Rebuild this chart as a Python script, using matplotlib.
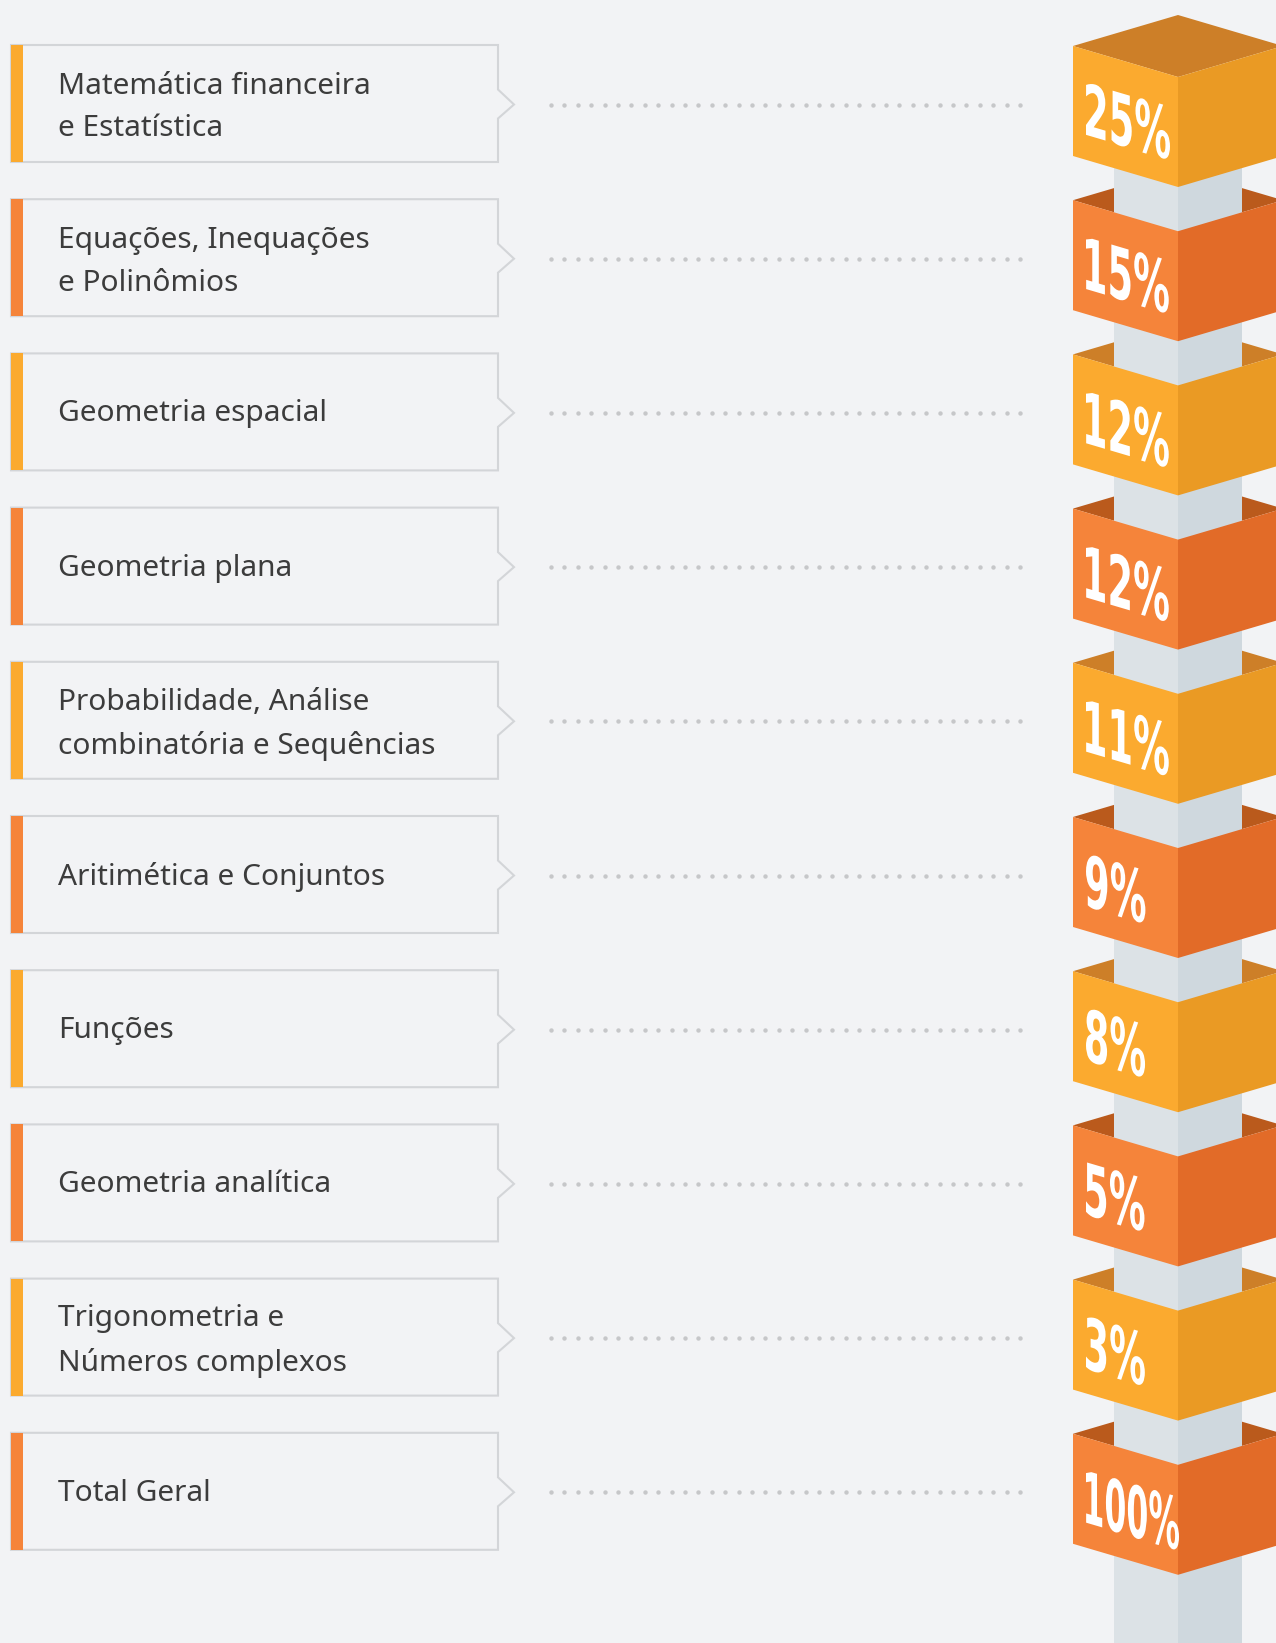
import numpy as np
import matplotlib
matplotlib.use("Agg")
import matplotlib.pyplot as plt
from matplotlib.patches import Polygon, PathPatch, Rectangle
from matplotlib.textpath import TextPath
from matplotlib.transforms import Affine2D
from matplotlib import font_manager

# data
topics = ["Matemática financeira\ne Estatística",
          "Equações, Inequações\ne Polinômios",
          "Geometria espacial",
          "Geometria plana",
          "Probabilidade, Análise\ncombinatória e Sequências",
          "Aritimética e Conjuntos",
          "Funções",
          "Geometria analítica",
          "Trigonometria e\nNúmeros complexos",
          "Total Geral"]
shares = [25, 15, 12, 12, 11, 9, 8, 5, 3, 100]
share_labels = [f"{v}%" for v in shares]

W, H = 1276, 1643
BG = "#F2F3F5"
yellow = {"front": "#FBAA2F", "side": "#EA9A24", "back": "#CD7F28"}
orange = {"front": "#F5843A", "side": "#E26B28", "back": "#BA5A1C"}

fig = plt.figure(figsize=(W / 100, H / 100), dpi=100, facecolor=BG)
ax = fig.add_axes([0, 0, 1, 1])
ax.set_xlim(0, W)
ax.set_ylim(H, 0)
ax.axis("off")
ax.set_facecolor(BG)

pitch = 154.2
L, C, R = 1073, 1178, 1283
slope = 31 / 105
face_h = 110

# narrow bold face for the percentages, squeezed further below
try:
    pct_font = font_manager.FontProperties(family="Liberation Sans Narrow", weight="bold")
    font_manager.findfont(pct_font, fallback_to_default=False)
except Exception:
    pct_font = font_manager.FontProperties(family="DejaVu Sans", weight="bold")

ref_path = TextPath((0, 0), "25%", size=100, prop=pct_font)
ref_bb = ref_path.get_extents()
digit_h = 54
k = 84 / (ref_bb.width * digit_h / ref_bb.height)

# pillar behind everything
ax.add_patch(Rectangle((1114, 120), C - 1114, H, color="#DCE2E6", lw=0, zorder=2))
ax.add_patch(Rectangle((C, 120), 1242 - C, H, color="#CFD8DE", lw=0, zorder=2))

shear = Affine2D(np.array([[1, 0, 0], [slope, 1, 0], [0, 0, 1]]))

for i, (topic, lab) in enumerate(zip(topics, share_labels)):
    pal = yellow if i % 2 == 0 else orange
    top = 45 + i * pitch
    bot = top + 117
    cy = (top + bot) / 2

    # label box with arrow notch
    box = [(11, top), (498, top), (498, cy - 14), (514, cy + 1), (498, cy + 15),
           (498, bot), (11, bot)]
    ax.add_patch(Polygon(box, closed=True, facecolor=BG, edgecolor="#D3D5D8", lw=1.5, zorder=3))
    ax.add_patch(Rectangle((11, top), 12, bot - top, color=pal["front"], lw=0, zorder=4))
    dy = 4 if "\n" in topic else 2
    ax.text(58, cy + dy, topic, fontsize=21.5, family="Noto Sans", color="#3C3C3C",
            va="center", ha="left", linespacing=1.62, zorder=5)

    # dotted leader
    xs = np.arange(551, 1030, 13.4)
    ax.scatter(xs, np.full_like(xs, cy + 1), s=10, color="#C6C7C9", lw=0, zorder=3)

    # cube on top, open bands below
    T = 46 + i * pitch
    ax.add_patch(Polygon([(L, T), (C, T - 31), (R, T), (C, T + 31)], closed=True,
                         color=pal["back"], lw=0, zorder=1 if i else 6))
    ax.add_patch(Polygon([(L, T), (C, T + 31), (C, T + 31 + face_h), (L, T + face_h)],
                         closed=True, color=pal["front"], lw=0, zorder=6))
    ax.add_patch(Polygon([(C, T + 31), (R, T), (R, T + face_h), (C, T + 31 + face_h)],
                         closed=True, color=pal["side"], lw=0, zorder=6))

    # sheared percentage text on the front face
    tp = TextPath((0, 0), lab, size=100, prop=pct_font)
    bb = tp.get_extents()
    sy = digit_h / bb.height
    sx = min(sy * k, 93 / bb.width)
    tx = L + 13
    ty = T + 13 * slope + 32
    tr = (Affine2D().translate(-bb.x0, -bb.y1).scale(sx, -sy) + shear
          + Affine2D().translate(tx, ty) + ax.transData)
    ax.add_patch(PathPatch(tp, transform=tr, facecolor="white", lw=0, zorder=7))

fig.savefig("out.png", dpi=100, facecolor=BG)
